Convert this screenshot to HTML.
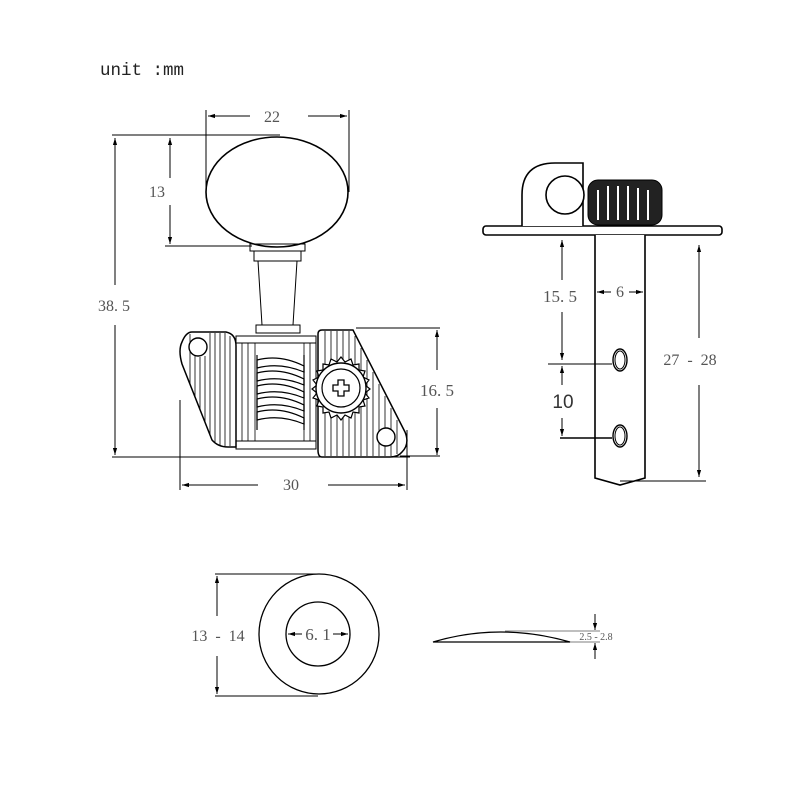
<!DOCTYPE html>
<html><head><meta charset="utf-8"><style>
html,body{margin:0;padding:0;background:#fff}
svg{display:block}
text{font-family:"Liberation Serif",serif;fill:#555}
</style></head><body>
<svg width="800" height="800" viewBox="0 0 800 800" xmlns="http://www.w3.org/2000/svg">
<defs>
<marker id="a" viewBox="0 0 10 10" refX="10" refY="5" markerWidth="7" markerHeight="7" orient="auto-start-reverse"><path d="M0,2 L10,5 L0,8 z" fill="#000"/></marker>
</defs>
<text x="100" y="75" style="font-family:'Liberation Mono',monospace;font-size:17.5px;fill:#222">unit :mm</text>

<g stroke="#000" stroke-width="1" fill="none">
<line x1="206" y1="110" x2="206" y2="190"/><line x1="349" y1="110" x2="349" y2="192"/>
<line x1="208" y1="116" x2="250" y2="116" marker-start="url(#a)"/>
<line x1="308" y1="116" x2="347" y2="116" marker-end="url(#a)"/>
<line x1="112" y1="135" x2="280" y2="135"/><line x1="165" y1="246" x2="252" y2="246"/>
<line x1="170" y1="138" x2="170" y2="178" marker-start="url(#a)"/>
<line x1="170" y1="205" x2="170" y2="244" marker-end="url(#a)"/>
<line x1="115" y1="138" x2="115" y2="285" marker-start="url(#a)"/>
<line x1="115" y1="325" x2="115" y2="455" marker-end="url(#a)"/>
<line x1="112" y1="457" x2="410" y2="457"/>
<ellipse cx="277" cy="192" rx="71" ry="55" stroke-width="1.6"/>
<rect x="250" y="244" width="55" height="7"/>
<rect x="254" y="251" width="47" height="10"/>
<path d="M258,261 L297,261 L293,325 L262,325 Z"/>
<rect x="256" y="325" width="44" height="8"/>
<path d="M192,332 L226,332 Q236,334 236,346 L236,447 L228,447 Q218,447 212,440 L182,364 Q178,350 182,342 Q186,332 192,332 Z" stroke-width="1.5"/>
<g stroke-width="0.8">
<line x1="190" y1="334" x2="190" y2="385"/><line x1="195" y1="356" x2="195" y2="398"/><line x1="200" y1="357" x2="200" y2="410"/><line x1="205" y1="356" x2="205" y2="422"/><line x1="210" y1="333" x2="210" y2="434"/><line x1="215" y1="333" x2="215" y2="442"/><line x1="220" y1="333" x2="220" y2="446"/><line x1="225" y1="333" x2="225" y2="446"/><line x1="230" y1="336" x2="230" y2="446"/>
</g>
<circle cx="198" cy="347" r="9" stroke-width="1.4" fill="#fff"/>
<rect x="236" y="336" width="80" height="7"/>
<rect x="236" y="441" width="80" height="8"/>
<line x1="236" y1="343" x2="236" y2="441"/><line x1="316" y1="343" x2="316" y2="441"/>
<g stroke-width="0.8">
<line x1="242" y1="343" x2="242" y2="441"/><line x1="248" y1="343" x2="248" y2="441"/><line x1="255" y1="343" x2="255" y2="441"/><line x1="304" y1="343" x2="304" y2="441"/><line x1="310" y1="343" x2="310" y2="441"/>
</g>
<g stroke-width="1.2" fill="#fff">
<path d="M257,360 Q280,354 304,366 L304,372 Q280,362 257,368 Z"/>
<path d="M257,373 Q280,367 304,379 L304,385 Q280,375 257,381 Z"/>
<path d="M257,386 Q280,380 304,392 L304,398 Q280,388 257,394 Z"/>
<path d="M257,399 Q280,393 304,405 L304,411 Q280,401 257,407 Z"/>
<path d="M257,412 Q280,406 304,418 L304,424 Q280,414 257,420 Z"/>
<line x1="257" y1="355" x2="257" y2="430"/><line x1="304" y1="355" x2="304" y2="430"/>
</g>
<path d="M322,330 L353,330 L405,432 Q410,444 402,452 Q398,457 390,457 L322,457 Q318,457 318,450 L318,334 Q318,330 322,330 Z" stroke-width="1.5"/>
<g stroke-width="0.8">
<line x1="325" y1="331" x2="325" y2="456"/><line x1="331" y1="331" x2="331" y2="456"/><line x1="337" y1="331" x2="337" y2="456"/><line x1="343" y1="331" x2="343" y2="456"/><line x1="349" y1="331" x2="349" y2="456"/><line x1="355" y1="336" x2="355" y2="456"/><line x1="361" y1="348" x2="361" y2="456"/><line x1="367" y1="360" x2="367" y2="456"/><line x1="373" y1="372" x2="373" y2="456"/><line x1="379" y1="384" x2="379" y2="456"/><line x1="385" y1="396" x2="385" y2="456"/><line x1="391" y1="408" x2="391" y2="456"/><line x1="397" y1="420" x2="397" y2="454"/>
</g>
<circle cx="386" cy="437" r="9" stroke-width="1.4" fill="#fff"/>
<path fill="#fff" stroke-width="1.2" d="M341,357 L345,362 L351,359 L353,365 L359,364 L359,370 L365,371 L363,377 L369,380 L365,385 L370,389 L365,393 L369,398 L363,400 L365,406 L359,407 L359,413 L353,412 L351,418 L345,415 L341,420 L337,415 L331,418 L329,412 L323,413 L323,407 L317,406 L319,400 L313,398 L317,393 L312,389 L317,385 L313,380 L319,377 L317,371 L323,370 L323,364 L329,365 L331,359 L337,362 Z"/>
<circle cx="341" cy="388" r="25" stroke-width="1.4" fill="#fff"/>
<circle cx="341" cy="388" r="19" stroke-width="1.2"/>
<path d="M338,380 L344,380 L344,385 L349,385 L349,391 L344,391 L344,396 L338,396 L338,391 L333,391 L333,385 L338,385 Z" stroke-width="1.3"/>
<line x1="356" y1="328" x2="440" y2="328"/>
<line x1="437" y1="330" x2="437" y2="370" marker-start="url(#a)"/>
<line x1="437" y1="408" x2="437" y2="455" marker-end="url(#a)"/>
<line x1="400" y1="456" x2="440" y2="456"/>
<line x1="180" y1="400" x2="180" y2="490"/><line x1="407" y1="430" x2="407" y2="490"/>
<line x1="182" y1="485" x2="258" y2="485" marker-start="url(#a)"/>
<line x1="328" y1="485" x2="405" y2="485" marker-end="url(#a)"/>

<rect x="483" y="226" width="239" height="9" rx="3" stroke-width="1.6" fill="#fff"/>
<path d="M522,226 L522,195 Q522,163 555,163 L583,163 L583,226" stroke-width="1.6" fill="#fff"/>
<circle cx="565" cy="195" r="19" stroke-width="1.6" fill="#fff"/>
<rect x="588" y="180" width="74" height="45" rx="10" fill="#222"/>
<g stroke="#fff" stroke-width="2">
<line x1="598" y1="190" x2="598" y2="220"/><line x1="608" y1="186" x2="608" y2="220"/><line x1="618" y1="186" x2="618" y2="220"/><line x1="628" y1="186" x2="628" y2="220"/><line x1="638" y1="188" x2="638" y2="220"/><line x1="648" y1="190" x2="648" y2="220"/>
</g>
<path d="M595,235 L595,478 L620,485 L645,478 L645,235" stroke-width="1.6" fill="#fff"/>
<ellipse cx="620" cy="360" rx="7" ry="11" stroke-width="1.4"/><ellipse cx="620" cy="360" rx="5" ry="9"/>
<ellipse cx="620" cy="436" rx="7" ry="11" stroke-width="1.4"/><ellipse cx="620" cy="436" rx="5" ry="9"/>
<line x1="562" y1="240" x2="562" y2="280" marker-start="url(#a)"/>
<line x1="562" y1="312" x2="562" y2="360" marker-end="url(#a)"/>
<line x1="548" y1="364" x2="612" y2="364"/>
<line x1="562" y1="366" x2="562" y2="385" marker-start="url(#a)"/>
<line x1="562" y1="418" x2="562" y2="436" marker-end="url(#a)"/>
<line x1="560" y1="438" x2="612" y2="438" stroke-width="1.5"/>
<line x1="597" y1="292" x2="611" y2="292" marker-start="url(#a)"/>
<line x1="629" y1="292" x2="643" y2="292" marker-end="url(#a)"/>
<line x1="699" y1="245" x2="699" y2="338" marker-start="url(#a)"/>
<line x1="699" y1="385" x2="699" y2="477" marker-end="url(#a)"/>
<line x1="620" y1="481" x2="706" y2="481"/>

<circle cx="319" cy="634" r="60" stroke-width="1.3"/>
<circle cx="318" cy="634" r="32" stroke-width="1.3"/>
<line x1="215" y1="574" x2="322" y2="574"/><line x1="215" y1="696" x2="318" y2="696"/>
<line x1="217" y1="576" x2="217" y2="616" marker-start="url(#a)"/>
<line x1="217" y1="656" x2="217" y2="694" marker-end="url(#a)"/>
<line x1="288" y1="634" x2="302" y2="634" marker-start="url(#a)"/>
<line x1="333" y1="634" x2="348" y2="634" marker-end="url(#a)"/>
<path d="M433,642 Q500,622 570,642 Z" stroke-width="1.2"/>
<line x1="505" y1="631" x2="600" y2="631" stroke-width="0.6"/>
<line x1="570" y1="642" x2="600" y2="642" stroke-width="0.6"/>
<line x1="595" y1="614" x2="595" y2="630" marker-end="url(#a)"/>
<line x1="595" y1="659" x2="595" y2="643" marker-end="url(#a)"/>
</g>

<g style="font-size:16px">
<text x="272" y="122" text-anchor="middle">22</text>
<text x="157" y="197" text-anchor="middle">13</text>
<text x="114" y="311" text-anchor="middle">38. 5</text>
<text x="437" y="396" text-anchor="middle" style="font-size:17px">16. 5</text>
<text x="291" y="490" text-anchor="middle">30</text>
<text x="560" y="302" text-anchor="middle" style="font-size:17px">15. 5</text>
<text x="620" y="297" text-anchor="middle">6</text>
<text x="563" y="408" text-anchor="middle" style="font-family:'Liberation Sans',sans-serif;font-size:19px;fill:#333">10</text>
<text x="690" y="365" text-anchor="middle" xml:space="preserve">27  -  28</text>
<text x="218" y="641" text-anchor="middle" xml:space="preserve">13  -  14</text>
<text x="318" y="640" text-anchor="middle" style="font-size:17px">6. 1</text>
<text x="596" y="640" text-anchor="middle" style="font-size:10px">2.5 - 2.8</text>
</g>
</svg>
</body></html>
